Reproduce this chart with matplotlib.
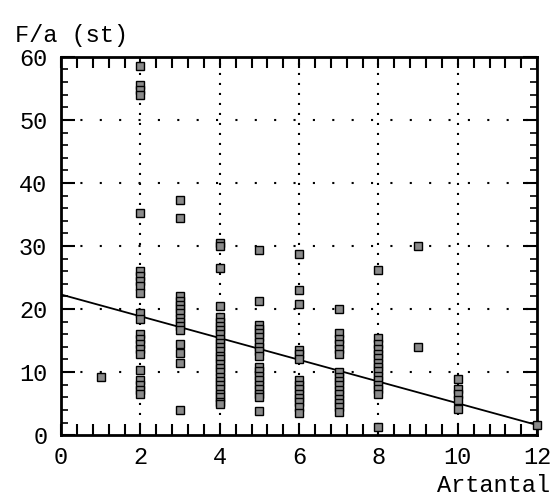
import matplotlib
matplotlib.use("Agg")
import matplotlib.pyplot as plt
from matplotlib.ticker import MultipleLocator

# ---- data ----
x_cols = [1, 2, 3, 4, 5, 6, 7, 8, 9, 10, 12]
y_cols = [
    [9.2],
    [58.5, 55.5, 54.8, 54, 35.2, 26, 25.2, 24.4, 23.6, 22.5, 19.3, 18.5, 16, 15.2,
     14.4, 13.6, 12.8, 10.3, 8.8, 8, 7.2, 6.5],
    [37.3, 34.5, 22, 21.3, 20.6, 20, 19.3, 18.6, 18, 17.3, 16.7, 14.5, 13, 11.5, 4],
    [30.5, 30, 26.5, 20.5, 18.7, 18, 17.3, 16.6, 16, 15.3, 14.6, 14, 13.3, 12.6, 12,
     11.3, 10.6, 10, 9.3, 8.6, 8, 7.3, 6.6, 6, 5.3, 5],
    [29.3, 21.2, 17.5, 16.8, 16.2, 15.5, 14.8, 14, 13.3, 12.6, 10.8, 10.1, 9.4, 8.7,
     8, 7.3, 6.6, 6, 3.8],
    [28.8, 23, 20.8, 13.5, 12.8, 12, 8.7, 8, 7.3, 6.6, 5.9, 5.2, 4.5, 3.5],
    [20, 16.2, 15.3, 14.5, 13.6, 12.8, 10, 9.3, 8.6, 7.9, 7.2, 6.5, 5.8, 5.1, 4.4, 3.6],
    [26.2, 15.4, 14.5, 13.6, 12.9, 12.2, 11.5, 10.8, 10.1, 9.4, 8.7, 8, 7.3, 6.6, 1.3],
    [30, 14],
    [8.9, 7.3, 6.5, 5.5, 4.2],
    [1.6],
]
line_x = [0, 12]
line_y = [22.3, 1.6]
x_ticks = [0, 2, 4, 6, 8, 10, 12]
y_ticks = [0, 10, 20, 30, 40, 50, 60]
x_grid = [2, 4, 6, 8, 10]
y_grid = [10, 20, 30, 40, 50]
y_label = "F/a (st)"
x_label = "Artantal"

font = "Liberation Mono"
fs = 17

fig = plt.figure(figsize=(5.56, 4.99), dpi=100)
ax = fig.add_axes([0.110, 0.128, 0.856, 0.758])
ax.set_xlim(0, 12)
ax.set_ylim(0, 60)

for g in x_grid:
    ax.axvline(g, color="black", lw=1.5, linestyle=(0, (1, 3.8)), zorder=1)
for g in y_grid:
    ax.axhline(g, color="black", lw=1.5, linestyle=(0, (1, 8.3)), zorder=1)

ax.plot(line_x, line_y, color="black", lw=1.3, zorder=2)

for xv, ys in zip(x_cols, y_cols):
    ax.plot([xv] * len(ys), ys, linestyle="none", marker="s", markersize=5.5,
            markerfacecolor="#8a8a8a", markeredgecolor="black", markeredgewidth=1.0,
            zorder=3, clip_on=False)

for s in ax.spines.values():
    s.set_linewidth(2)

ax.set_xticks(x_ticks)
ax.set_yticks(y_ticks)
ax.xaxis.set_minor_locator(MultipleLocator(0.4))
ax.yaxis.set_minor_locator(MultipleLocator(2))
ax.tick_params(axis="x", which="both", direction="in", top=True, bottom=True,
               length=8, width=1.5, pad=8)
ax.tick_params(axis="y", which="major", direction="in", left=True, right=True,
               length=10, width=1.5, pad=10)
ax.tick_params(axis="y", which="minor", direction="in", left=True, right=True,
               length=5, width=1.2)
ax.set_xticklabels([str(t) for t in x_ticks], fontfamily=font, fontsize=fs)
ax.set_yticklabels([str(t) for t in y_ticks], fontfamily=font, fontsize=fs)

fig.text(15 / 556, 1 - 42 / 499, y_label, fontfamily=font, fontsize=fs,
         ha="left", va="baseline")
fig.text(550 / 556, 1 - 492 / 499, x_label, fontfamily=font, fontsize=fs,
         ha="right", va="baseline")

fig.savefig("out.png", dpi=100)
